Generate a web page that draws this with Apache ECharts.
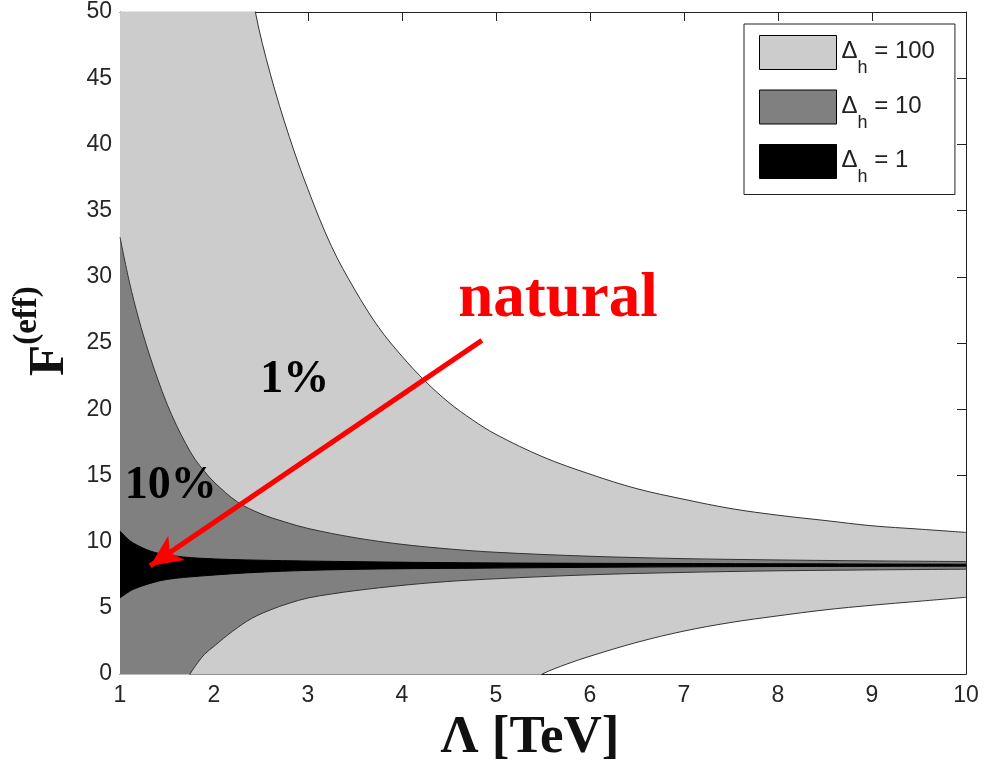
<!DOCTYPE html>
<html><head><meta charset="utf-8">
<script src="https://cdn.jsdelivr.net/npm/echarts@6/dist/echarts.min.js"></script>
<style>html,body{margin:0;padding:0;background:#fff}#c{width:989px;height:770px}</style>
</head><body><div id="c"></div>
<script>
// Λ [TeV] vs F(eff) boundaries of the fine-tuning bands
const xTickValues = [1, 2, 3, 4, 5, 6, 7, 8, 9, 10];
const yTickValues = [0, 5, 10, 15, 20, 25, 30, 35, 40, 45, 50];
const legendNames = ['100', '10', '1'];

const upper100 = [[1,60],[2.2,60],[2.44,50],[2.6,45.3],[2.8,40.6],[3.0,36.6],[3.25,32.3],[3.5,29.0],[3.75,26.2],[4.0,24.0],[4.25,22.1],[4.5,20.5],[4.75,19.2],[5.0,18.1],[5.5,16.4],[6.0,15.1],[6.5,14.0],[7.0,13.2],[7.5,12.5],[8.0,12.0],[8.5,11.6],[9.0,11.2],[9.5,10.95],[10,10.7]];
const upper10 = [[1,33],[1.1,29.6],[1.2,26.8],[1.3,24.4],[1.4,22.3],[1.5,20.4],[1.6,18.8],[1.7,17.4],[1.8,16.2],[1.9,15.3],[2.0,14.5],[2.25,13.0],[2.5,12.1],[2.75,11.5],[3.0,11.0],[3.5,10.3],[4.0,9.8],[4.5,9.45],[5,9.2],[6,8.9],[7,8.72],[8,8.62],[9,8.55],[10,8.5]];
const upper1 = [[1,10.8],[1.07,10.3],[1.14,9.9],[1.32,9.3],[1.5,9.0],[1.85,8.75],[2.5,8.6],[3.4,8.5],[4.83,8.4],[7,8.35],[10,8.3]];
const lower1 = [[1,5.75],[1.07,6.1],[1.14,6.4],[1.32,6.85],[1.5,7.15],[1.85,7.4],[2.5,7.7],[3.4,7.9],[4.83,8.0],[7,8.1],[10,8.15]];
const lower10 = [[1,-1],[1.72,-0.4],[1.745,0],[1.8,0.6],[1.9,1.5],[2.0,2.1],[2.2,3.25],[2.4,4.2],[2.6,4.85],[2.8,5.35],[3.0,5.75],[3.25,6.05],[3.5,6.3],[4.0,6.7],[4.5,7.0],[5.0,7.2],[6,7.5],[7,7.68],[8,7.8],[9,7.87],[10,7.92]];
const lower100 = [[1,-1],[5.45,-0.3],[5.49,0],[5.75,0.75],[6,1.35],[6.5,2.4],[7,3.25],[7.5,3.9],[8,4.4],[8.5,4.85],[9,5.2],[9.5,5.5],[10,5.8]];

const annotations = [
  {text:'natural', at:[5.66,28.27], color:'#ff0000', size:63},
  {text:'1%', at:[2.86,22.18], color:'#000000', size:46},
  {text:'10%', at:[1.54,14.2], color:'#000000', size:46}
];
const arrowFrom = [4.85, 25.2];
const arrowTo = [1.32, 8.17];

function band(name, data, fill, line) {
  return {
    type:'line', name:name, data:data, showSymbol:false, symbol:'none',
    smooth:0.35, color:fill, itemStyle:{color:fill},
    lineStyle:{color:line, width:1}, areaStyle:{color:fill, opacity:1},
    silent:true, clip:true, animation:false
  };
}

const chart = echarts.init(document.getElementById('c'));
const axisCommon = {
  axisLine:{show:true, onZero:false, lineStyle:{color:'#222', width:1}},
  axisTick:{show:true, inside:true, length:9, lineStyle:{color:'#222', width:1}},
  splitLine:{show:false}
};
chart.setOption({
  backgroundColor:'#ffffff',
  animation:false,
  grid:{left:120, top:12, right:23, bottom:93, containLabel:false},
  xAxis:[
    Object.assign({type:'value', min:1, max:10, interval:1, position:'bottom',
      axisLabel:{show:true, margin:10, fontSize:23, color:'#262626', fontFamily:'Liberation Sans', formatter:v=>xTickValues.includes(v)?String(v):''},
      name:'Λ [TeV]', nameLocation:'middle', nameGap:37,
      nameTextStyle:{fontSize:53, fontWeight:'bold', fontFamily:'Liberation Serif', color:'#111', padding:[0,26,0,0]}
    }, axisCommon),
    Object.assign({type:'value', min:1, max:10, interval:1, position:'top', axisLabel:{show:false}}, axisCommon)
  ],
  yAxis:[
    Object.assign({type:'value', min:0, max:50, interval:5, position:'left',
      axisLabel:{show:true, margin:8, fontSize:23, color:'#262626', fontFamily:'Liberation Sans', formatter:v=>yTickValues.includes(v)?String(v):''},
      name:'{f|F}{s|(eff)}', nameLocation:'middle', nameGap:46, nameRotate:90,
      nameTextStyle:{padding:[0,0,0,24], rich:{
        f:{fontSize:51, fontWeight:'bold', fontFamily:'Liberation Serif', color:'#111', lineHeight:50, padding:[14,0,0,0], verticalAlign:'top'},
        s:{fontSize:33, fontWeight:'bold', fontFamily:'Liberation Serif', color:'#111', lineHeight:33, verticalAlign:'top'}
      }}
    }, axisCommon),
    Object.assign({type:'value', min:0, max:50, interval:5, position:'right', axisLabel:{show:false}}, axisCommon)
  ],
  legend:{
    show:true, data:legendNames, orient:'vertical', left:744, top:24,
    padding:[11,20,8,15], itemWidth:77, itemHeight:34, itemGap:12,
    backgroundColor:'#ffffff', borderColor:'#222', borderWidth:1, borderRadius:0,
    selectedMode:false, icon:'rect',
    itemStyle:{borderColor:'#000', borderWidth:1},
    formatter:name=>'{d|Δ}{h|h}{t| = '+name+'}',
    textStyle:{fontFamily:'Liberation Sans', color:'#222', rich:{
      d:{fontSize:24, fontFamily:'Liberation Sans', color:'#222', lineHeight:26, verticalAlign:'top'},
      h:{fontSize:18, fontFamily:'Liberation Sans', color:'#222', lineHeight:18, padding:[20,0,0,0], verticalAlign:'top'},
      t:{fontSize:24, fontFamily:'Liberation Sans', color:'#222', lineHeight:26, verticalAlign:'top'}
    }}
  },
  series:[
    band('100', upper100, '#cccccc', '#333333'),
    band('10', upper10, '#808080', '#333333'),
    band('1', upper1, '#000000', '#000000'),
    band('10', lower1, '#808080', '#000000'),
    band('100', lower10, '#cccccc', '#333333'),
    band('w', lower100, '#ffffff', '#333333'),
    {
      type:'scatter', name:'ann', data:[], silent:true, z:10, animation:false,
      markLine:{silent:true, animation:false, symbol:['none','arrow'], symbolSize:[22,32],
        lineStyle:{color:'#ff0000', width:5, type:'solid'}, label:{show:false},
        emphasis:{disabled:true},
        data:[[{coord:arrowFrom},{coord:arrowTo}]]},
      markPoint:{silent:true, animation:false, symbol:'rect', symbolSize:1,
        itemStyle:{color:'rgba(0,0,0,0)'},
        data:annotations.map(a=>({coord:a.at, label:{show:true, position:'inside', formatter:a.text, color:a.color, fontSize:a.size, fontWeight:'bold', fontFamily:'Liberation Serif'}}))}
    }
  ]
});
</script></body></html>
